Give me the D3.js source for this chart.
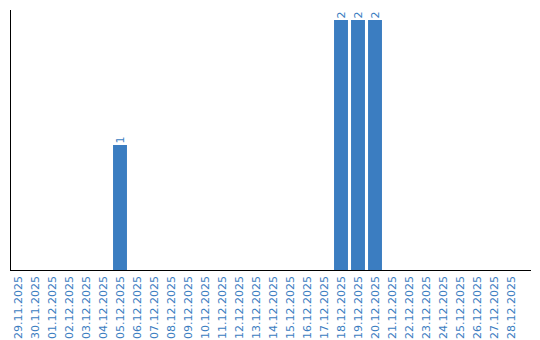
<!DOCTYPE html>
<html>
<head>
<meta charset="utf-8">
<script src="https://cdn.jsdelivr.net/npm/d3@7"></script>
<style>
  body { margin: 0; background: #fff; }
  text { font-family: "DejaVu Sans", Verdana, sans-serif; }
</style>
</head>
<body>
<div id="chart"></div>
<script>
// categories: one per day
const days = ["29.11.2025", "30.11.2025", "01.12.2025", "02.12.2025", "03.12.2025",
    "04.12.2025", "05.12.2025", "06.12.2025", "07.12.2025", "08.12.2025",
    "09.12.2025", "10.12.2025", "11.12.2025", "12.12.2025", "13.12.2025",
    "14.12.2025", "15.12.2025", "16.12.2025", "17.12.2025", "18.12.2025",
    "19.12.2025", "20.12.2025", "21.12.2025", "22.12.2025", "23.12.2025",
    "24.12.2025", "25.12.2025", "26.12.2025", "27.12.2025", "28.12.2025"];
const counts = [0, 0, 0, 0, 0, 0, 1, 0, 0, 0, 0, 0, 0, 0, 0,
    0, 0, 0, 0, 2, 2, 2, 0, 0, 0, 0, 0, 0, 0, 0];

const width = 540;
const height = 340;
const blue = "#3b7dc1";

const svg = d3.select("#chart")
    .append("svg")
    .attr("width", width)
    .attr("height", height);

const x = d3.scaleBand()
    .domain(days)
    .range([9.5, 519.5])
    .paddingInner(0.18)
    .paddingOuter(0.09);

const y = d3.scaleLinear()
    .domain([0, 2])
    .range([270, 20]);

const data = days.map((d, i) => ({ day: d, value: counts[i] }));

// bars
svg.selectAll(".bar")
    .data(data.filter(d => d.value > 0))
    .join("rect")
    .attr("class", "bar")
    .attr("x", d => x(d.day))
    .attr("width", x.bandwidth())
    .attr("y", d => y(d.value))
    .attr("height", d => y(0) - y(d.value))
    .attr("fill", blue);

// value labels above bars
svg.selectAll(".val")
    .data(data.filter(d => d.value > 0))
    .join("text")
    .attr("class", "val")
    .attr("transform", d => `translate(${x(d.day) + x.bandwidth() / 2}, ${y(d.value) - 1.5}) rotate(-90)`)
    .attr("dy", "0.35em")
    .attr("text-anchor", "start")
    .style("font-size", "11px")
    .attr("fill", blue)
    .text(d => d.value);

// axis lines
svg.append("line")
    .attr("x1", 10.5).attr("x2", 10.5)
    .attr("y1", 10).attr("y2", 270)
    .attr("stroke", "#000");
svg.append("line")
    .attr("x1", 10).attr("x2", 531)
    .attr("y1", 270.5).attr("y2", 270.5)
    .attr("stroke", "#000");

// category labels
svg.selectAll(".tick-label")
    .data(days)
    .join("text")
    .attr("class", "tick-label")
    .attr("transform", d => `translate(${x(d) + x.bandwidth() / 2}, 276) rotate(-90)`)
    .attr("dy", "0.35em")
    .attr("text-anchor", "end")
    .style("font-size", "11px")
    .attr("fill", blue)
    .text(d => d);
</script>
</body>
</html>
